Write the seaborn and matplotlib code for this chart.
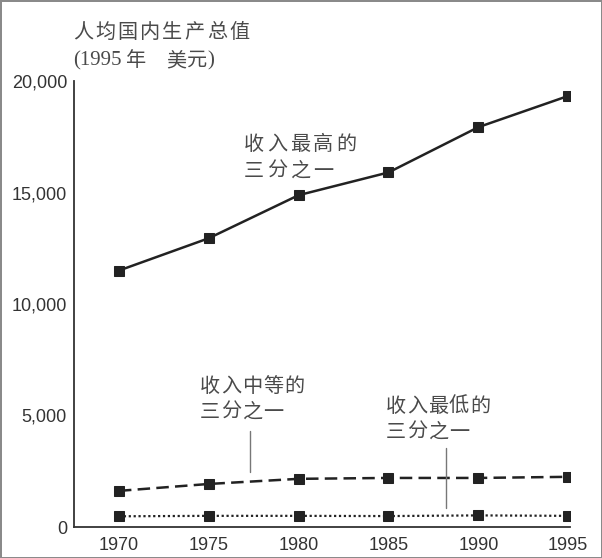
import matplotlib
matplotlib.use('Agg')
import matplotlib.pyplot as plt
import seaborn as sns
from matplotlib.ticker import FuncFormatter
from matplotlib.transforms import IdentityTransform

# 数据
years = [1970, 1975, 1980, 1985, 1990, 1995]
top_third = [11500, 12950, 14880, 15900, 17930, 19330]
middle_third = [1620, 1930, 2160, 2200, 2200, 2250]
bottom_third = [480, 500, 500, 490, 520, 500]
y_ticks = [0, 5000, 10000, 15000, 20000]

sns.set_style('white')
plt.rcParams['font.family'] = ['Liberation Sans', 'Noto Sans CJK SC', 'DejaVu Sans']
plt.rcParams['axes.unicode_minus'] = False

ink = '#222222'
txt = '#4a4a4a'
cjk = ['Noto Sans CJK SC', 'DejaVu Sans']
W, H = 602, 558

fig = plt.figure(figsize=(W / 100, H / 100), dpi=100, edgecolor='#8a8a8a', linewidth=2)
ax = fig.add_axes([74 / W, 31 / H, (570 - 74) / W, (528 - 82) / H])

sns.lineplot(x=years, y=top_third, ax=ax, color=ink, linewidth=1.8,
             linestyle='-', marker='s', markersize=7, markeredgecolor=ink)
sns.lineplot(x=years, y=middle_third, ax=ax, color=ink, linewidth=1.8,
             linestyle=(0, (5, 2.5)), marker='s', markersize=7, markeredgecolor=ink)
sns.lineplot(x=years, y=bottom_third, ax=ax, color=ink, linewidth=1.6,
             linestyle=(0, (1, 1.2)), marker='s', markersize=7, markeredgecolor=ink)

ax.set_xlim(1967.5, 1995.1)
ax.set_ylim(0, 20000)
ax.set_xticks(years)
ax.set_yticks(y_ticks)
ax.yaxis.set_major_formatter(FuncFormatter(lambda v, p: f'{int(v):,}'))
sns.despine(ax=ax)
for s in ['left', 'bottom']:
    ax.spines[s].set_color('#333333')
    ax.spines[s].set_linewidth(1.3)
ax.tick_params(axis='y', direction='out', length=4, width=1.2, color='#333333',
               labelsize=13, labelcolor='#333333', pad=1)
ax.tick_params(axis='x', direction='in', length=9, width=1.2, color='#333333',
               labelsize=13, labelcolor='#333333', pad=7)


def spaced(x, y, s, pitch=22, size=14.5, family=cjk):
    """逐字放置中文, 模拟原图的字间距 (x, y 为左上角像素)"""
    for i, ch in enumerate(s):
        fig.text(x + i * pitch, H - y, ch, family=family, fontsize=size,
                 color=txt, va='top', ha='left', transform=IdentityTransform())


# 标题
spaced(73, 22, '人均国内生产总值', pitch=22.3)
fig.text(73, H - 51, '(1995', family=['Liberation Serif'], fontsize=15, color=txt,
         va='top', ha='left', transform=IdentityTransform())
spaced(126, 50, '年')
spaced(166, 50, '美元', pitch=21)
fig.text(207, H - 51, ')', family=['Liberation Serif'], fontsize=15, color=txt,
         va='top', ha='left', transform=IdentityTransform())

# 标注
spaced(244, 134, '收入最高的', pitch=23)
spaced(244, 161, '三分之一', pitch=23)
spaced(200, 376, '收入中等的', pitch=21)
spaced(200, 402, '三分之一', pitch=21)
spaced(386, 396, '收入最低的', pitch=21)
spaced(386, 422, '三分之一', pitch=21)
ax.plot([1977.3, 1977.3], [4300, 2450], color='#777777', linewidth=1)
ax.plot([1988.2, 1988.2], [3550, 850], color='#777777', linewidth=1)

fig.savefig('out.png', dpi=100, edgecolor=fig.get_edgecolor())
